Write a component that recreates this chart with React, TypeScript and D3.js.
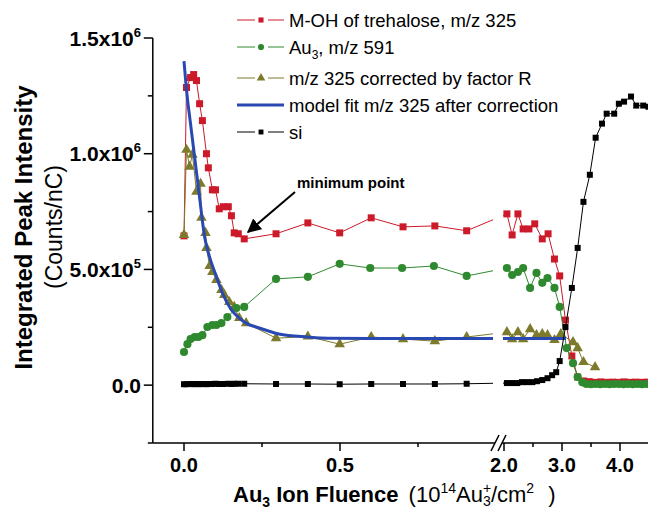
import React from 'react'
import * as d3 from 'd3'

type Pt = [number, number]

// M-OH of trehalose, m/z 325
const trehalose: Pt[] = [
  [0, 6.45e5], [0.008, 1.286e6], [0.021, 1.329e6], [0.031, 1.342e6], [0.04, 1.316e6],
  [0.05, 1.216e6], [0.059, 1.143e6], [0.072, 1.0e6], [0.078, 0.939e6], [0.091, 0.844e6],
  [0.101, 0.844e6], [0.113, 0.762e6], [0.126, 0.771e6], [0.142, 0.771e6], [0.152, 0.732e6],
  [0.161, 0.658e6], [0.174, 0.654e6], [0.193, 0.632e6], [0.295, 0.654e6], [0.397, 0.701e6],
  [0.499, 0.658e6], [0.6, 0.723e6], [0.702, 0.684e6], [0.804, 0.688e6], [0.906, 0.667e6],
  [2.05, 0.74e6], [2.14, 0.649e6], [2.24, 0.74e6], [2.33, 0.675e6], [2.43, 0.675e6],
  [2.53, 0.697e6], [2.66, 0.632e6], [2.76, 0.654e6], [2.87, 0.545e6], [2.96, 0.472e6],
  [3.06, 0.281e6], [3.17, 0.126e6], [3.27, 0.035e6], [3.37, 0.018e6], [3.47, 0.015e6],
  [3.57, 0.012e6], [3.67, 0.014e6], [3.77, 0.012e6], [3.87, 0.013e6], [3.97, 0.012e6],
  [4.07, 0.014e6], [4.17, 0.012e6], [4.27, 0.013e6], [4.37, 0.012e6], [4.47, 0.013e6],
]

// Au3, m/z 591
const au3: Pt[] = [
  [0, 1.43e5], [0.011, 1.77e5], [0.021, 1.99e5], [0.034, 2.08e5], [0.046, 2.08e5],
  [0.059, 2.16e5], [0.075, 2.51e5], [0.091, 2.6e5], [0.104, 2.6e5], [0.12, 2.68e5],
  [0.139, 2.94e5], [0.168, 3.33e5], [0.193, 3.38e5], [0.295, 4.59e5], [0.397, 4.68e5],
  [0.499, 5.24e5], [0.597, 5.06e5], [0.699, 5.06e5], [0.801, 5.15e5], [0.906, 4.72e5],
  [2.05, 5.06e5], [2.14, 4.76e5], [2.24, 4.89e5], [2.33, 5.06e5], [2.45, 4.2e5],
  [2.56, 4.85e5], [2.66, 4.42e5], [2.75, 4.63e5], [2.87, 4.2e5], [2.96, 3.38e5],
  [3.08, 1.6e5], [3.19, 0.95e5], [3.27, 0.35e5], [3.35, 0.12e5], [3.42, 0.05e5],
  [3.5, 0.04e5], [3.58, 0.05e5], [3.66, 0.04e5], [3.74, 0.05e5], [3.82, 0.04e5],
  [3.9, 0.05e5], [3.98, 0.05e5], [4.06, 0.04e5], [4.14, 0.05e5], [4.22, 0.04e5],
  [4.3, 0.05e5], [4.38, 0.04e5], [4.46, 0.05e5],
]

// m/z 325 corrected by factor R
const corrected: Pt[] = [
  [0, 6.49e5], [0.008, 1.017e6], [0.018, 0.944e6], [0.027, 0.996e6], [0.04, 0.836e6],
  [0.053, 0.87e6], [0.056, 0.723e6], [0.069, 0.658e6], [0.072, 0.593e6], [0.082, 0.515e6],
  [0.091, 0.489e6], [0.104, 0.455e6], [0.12, 0.411e6], [0.129, 0.39e6], [0.145, 0.359e6],
  [0.161, 0.338e6], [0.177, 0.29e6], [0.199, 0.268e6], [0.295, 0.203e6], [0.397, 0.21e6],
  [0.499, 0.177e6], [0.6, 0.208e6], [0.702, 0.199e6], [0.804, 0.19e6], [0.906, 0.208e6],
  [2.05, 0.229e6], [2.14, 0.199e6], [2.24, 0.229e6], [2.33, 0.199e6], [2.45, 0.242e6],
  [2.56, 0.216e6], [2.66, 0.221e6], [2.75, 0.216e6], [2.87, 0.195e6], [2.98, 0.221e6],
  [3.19, 0.186e6], [3.27, 0.16e6], [3.37, 0.1e6], [3.57, 0.078e6],
]

// model fit m/z 325 after correction
const modelFit: Pt[] = [
  [0, 1.4e6], [0.01, 1.25e6], [0.02, 1.14e6], [0.03, 1.03e6], [0.04, 0.92e6],
  [0.05, 0.81e6], [0.066, 0.641e6], [0.082, 0.554e6], [0.104, 0.468e6], [0.123, 0.398e6],
  [0.152, 0.325e6], [0.177, 0.29e6], [0.199, 0.268e6], [0.241, 0.247e6], [0.304, 0.221e6],
  [0.397, 0.208e6], [0.46, 0.203e6], [0.6, 0.202e6], [0.9, 0.202e6], [2.0, 0.202e6],
  [3.07, 0.202e6],
]

// si
const si: Pt[] = [
  [0, 4e3], [0.008, 4e3], [0.021, 5e3], [0.031, 4e3], [0.04, 5e3], [0.05, 4e3],
  [0.059, 5e3], [0.072, 4e3], [0.078, 5e3], [0.091, 5e3], [0.101, 6e3], [0.113, 5e3],
  [0.126, 5e3], [0.142, 6e3], [0.152, 5e3], [0.161, 6e3], [0.174, 6e3], [0.193, 6e3],
  [0.295, 5e3], [0.397, 5e3], [0.499, 4e3], [0.6, 5e3], [0.702, 5e3], [0.804, 5e3],
  [0.906, 6e3], [2.05, 9e3], [2.14, 9e3], [2.23, 9e3], [2.31, 1.3e4], [2.4, 1.3e4],
  [2.49, 1.3e4], [2.57, 1.7e4], [2.66, 2.2e4], [2.75, 3.0e4], [2.83, 4.3e4], [2.9, 5.6e4],
  [2.96, 1.04e5], [3.06, 2.51e5], [3.17, 4.2e5], [3.27, 5.93e5], [3.37, 7.92e5],
  [3.48, 9.09e5], [3.58, 1.069e6], [3.69, 1.13e6], [3.77, 1.173e6], [3.9, 1.173e6],
  [3.98, 1.216e6], [4.07, 1.225e6], [4.19, 1.247e6], [4.28, 1.208e6], [4.4, 1.208e6],
  [4.49, 1.203e6],
]

const yMajor = [0, 5e5, 1e6, 1.5e6]
const yMinor = [-2.5e5, 2.5e5, 7.5e5, 1.25e6]
const yLabels = [
  { v: 0, base: '0.0', exp: '' },
  { v: 5e5, base: '5.0x10', exp: '5' },
  { v: 1e6, base: '1.0x10', exp: '6' },
  { v: 1.5e6, base: '1.5x10', exp: '6' },
]
const xMajor = [0, 0.5, 2, 3, 4]
const xMinor = [0.25, 0.75, 2.5, 3.5]
const xLabels = ['0.0', '0.5', '2.0', '3.0', '4.0']

const FONT = "'Liberation Sans', Arial, sans-serif"
const RED = '#cc1a2a'
const GREEN = '#2f8a2f'
const OLIVE = '#7d7a2c'
const BLUE = '#2a48b2'
const BLACK = '#000000'

// broken x axis: 0..1 on the left, 1.9..4.55 on the right
const x = d3.scaleLinear().domain([-0.1, 1.0, 1.9, 4.55]).range([152.8, 496, 498.2, 651.9])
const y = d3.scaleLinear().domain([-2.5e5, 1.5e6]).range([443, 38])

const line = d3
  .line<Pt>()
  .x((d) => x(d[0]))
  .y((d) => y(d[1]))

const smooth = d3
  .line<Pt>()
  .x((d) => x(d[0]))
  .y((d) => y(d[1]))
  .curve(d3.curveMonotoneX)

const sym = (type: d3.SymbolType, size: number) => d3.symbol().type(type).size(size)() || ''

function Series({ data, color, shape, size }: { data: Pt[]; color: string; shape: d3.SymbolType; size: number }) {
  const d = line(data) || ''
  const path = sym(shape, size)
  return (
    <g>
      <path d={d} fill="none" stroke={color} strokeWidth={1} clipPath="url(#clipL)" />
      <path d={d} fill="none" stroke={color} strokeWidth={1} clipPath="url(#clipR)" />
      {data.map((p, i) => (
        <path key={i} d={path} transform={`translate(${x(p[0])},${y(p[1])})`} fill={color} />
      ))}
    </g>
  )
}

const legendRows = [
  { y: 20, color: RED, shape: d3.symbolSquare, size: 26, label: 'M-OH of trehalose, m/z 325' },
  { y: 47, color: GREEN, shape: d3.symbolCircle, size: 30, label: 'Au3' },
  { y: 78, color: OLIVE, shape: d3.symbolTriangle, size: 32, label: 'm/z 325 corrected by factor R' },
  { y: 105, color: BLUE, shape: null, size: 0, label: 'model fit m/z 325 after correction' },
  { y: 132, color: BLACK, shape: d3.symbolSquare, size: 24, label: 'si' },
]

export default function App() {
  const axisY = y(-2.5e5)
  const axisX = x(-0.1)
  return (
    <svg
      width={648}
      height={512}
      style={{ position: 'absolute', left: 0, top: 0, background: '#fff' }}
      fontFamily={FONT}
    >
      <defs>
        <clipPath id="clipL">
          <rect x={0} y={0} width={493} height={512} />
        </clipPath>
        <clipPath id="clipR">
          <rect x={503} y={0} width={145} height={512} />
        </clipPath>
      </defs>

      {/* axes */}
      <line x1={axisX} x2={axisX} y1={y(1.5e6)} y2={axisY} stroke="#000" strokeWidth={1.5} />
      <line x1={axisX} x2={495} y1={axisY} y2={axisY} stroke="#000" strokeWidth={1.5} />
      <line x1={502} x2={648} y1={axisY} y2={axisY} stroke="#000" strokeWidth={1.5} />
      <line x1={491} y1={451} x2={499} y2={435} stroke="#000" strokeWidth={1.5} />
      <line x1={498} y1={451} x2={506} y2={435} stroke="#000" strokeWidth={1.5} />

      {yMajor.map((v) => (
        <line key={'ym' + v} x1={axisX - 9} x2={axisX} y1={y(v)} y2={y(v)} stroke="#000" strokeWidth={1.5} />
      ))}
      {yMinor.map((v) => (
        <line key={'yn' + v} x1={axisX - 5} x2={axisX} y1={y(v)} y2={y(v)} stroke="#000" strokeWidth={1.5} />
      ))}
      {xMajor.map((v) => (
        <line key={'xm' + v} x1={x(v)} x2={x(v)} y1={axisY} y2={axisY + 8} stroke="#000" strokeWidth={1.5} />
      ))}
      {xMinor.map((v) => (
        <line key={'xn' + v} x1={x(v)} x2={x(v)} y1={axisY} y2={axisY + 4} stroke="#000" strokeWidth={1.5} />
      ))}

      {yLabels.map((l) => (
        <text key={'yl' + l.v} x={141} y={y(l.v) + 7.5} textAnchor="end" fontSize={21} fontWeight="bold">
          {l.base}
          {l.exp && (
            <tspan fontSize={13} dy={-9}>
              {l.exp}
            </tspan>
          )}
        </text>
      ))}
      {xMajor.map((v, i) => (
        <text key={'xl' + v} x={x(v)} y={472} textAnchor="middle" fontSize={20} fontWeight="bold">
          {xLabels[i]}
        </text>
      ))}

      {/* axis titles */}
      <text transform="translate(32,227.5) rotate(-90)" textAnchor="middle" fontSize={24} fontWeight="bold">
        Integrated Peak Intensity
      </text>
      <text transform="translate(62,227) rotate(-90)" textAnchor="middle" fontSize={23}>
        (Counts/nC)
      </text>
      <text x={233} y={502} fontSize={22}>
        <tspan fontWeight="bold">Au</tspan>
        <tspan fontWeight="bold" fontSize={14} dy={5}>3</tspan>
        <tspan fontWeight="bold" dy={-5}> Ion Fluence</tspan>
        <tspan dx={4}> (10</tspan>
        <tspan fontSize={14} dy={-9}>14</tspan>
        <tspan dy={9}>Au</tspan>
        <tspan fontSize={14} dy={-9}>+</tspan>
        <tspan fontSize={14} dx={-8} dy={13}>3</tspan>
        <tspan dy={-4}>/cm</tspan>
        <tspan fontSize={14} dy={-9}>2</tspan>
        <tspan dx={14} dy={9}>)</tspan>
      </text>

      {/* data */}
      <Series data={trehalose} color={RED} shape={d3.symbolSquare} size={49} />
      <Series data={corrected} color={OLIVE} shape={d3.symbolTriangle} size={48} />
      <Series data={au3} color={GREEN} shape={d3.symbolCircle} size={52} />
      <path d={smooth(modelFit) || ''} fill="none" stroke={BLUE} strokeWidth={3} clipPath="url(#clipL)" />
      <path d={smooth(modelFit) || ''} fill="none" stroke={BLUE} strokeWidth={3} clipPath="url(#clipR)" />
      <Series data={si} color={BLACK} shape={d3.symbolSquare} size={36} />

      {/* annotation */}
      <defs>
        <marker id="arrow" viewBox="0 0 10 10" refX={9} refY={5} markerWidth={7} markerHeight={7} orient="auto">
          <path d="M0,0 L10,5 L0,10 z" fill="#000" />
        </marker>
      </defs>
      <line x1={295} y1={192} x2={248} y2={232} stroke="#000" strokeWidth={2} markerEnd="url(#arrow)" />
      <text x={297} y={188} fontSize={15} fontWeight="bold">
        minimum point
      </text>

      {/* legend */}
      {legendRows.map((r) => (
        <g key={r.label}>
          {r.shape ? (
            <>
              <line x1={237} x2={255} y1={r.y} y2={r.y} stroke={r.color} strokeWidth={1} />
              <line x1={268} x2={284} y1={r.y} y2={r.y} stroke={r.color} strokeWidth={1} />
              <path d={sym(r.shape, r.size)} transform={`translate(261,${r.y})`} fill={r.color} />
            </>
          ) : (
            <line x1={237} x2={284} y1={r.y} y2={r.y} stroke={r.color} strokeWidth={3} />
          )}
          <text x={289} y={r.y + 6.5} fontSize={18.5}>
            {r.label === 'Au3' ? (
              <>
                Au<tspan fontSize={12} dy={5}>3</tspan>
                <tspan dy={-5}>, m/z 591</tspan>
              </>
            ) : (
              r.label
            )}
          </text>
        </g>
      ))}
    </svg>
  )
}
